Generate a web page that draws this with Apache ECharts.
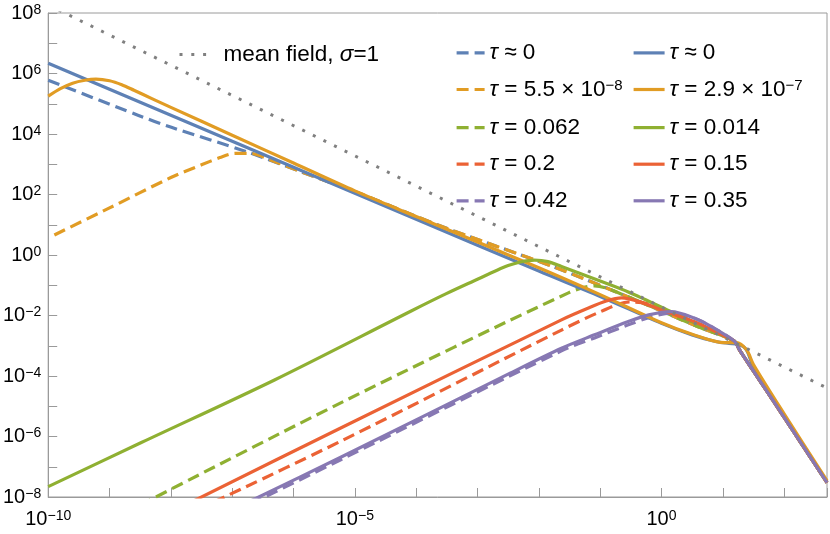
<!DOCTYPE html>
<html><head><meta charset="utf-8">
<script src="https://cdn.jsdelivr.net/npm/echarts@6/dist/echarts.min.js"></script>
<style>html,body{margin:0;padding:0;background:#fff}#c{width:830px;height:534px}</style>
</head><body><div id="c"></div>
<script>
// ---------- data (x, y) ----------
const meanField = [[1e-10,1.86e8],[1e-5,1.9e3],[1,1.9e-2],[31.6,6.3e-4],[500,4.0e-5]];

const blueSolid = [[1e-10,2.19e6],[1e-9,3.0e5],[1e-8,4.17e4],[1e-6,794],[1e-4,15.1],[0.01,0.295],[0.1,0.0427],[1,5.5e-3],[3.16,2.29e-3],[7.94,1.35e-3],[12.6,1.2e-3],[17.8,1.12e-3],[24,7.6e-4],[31.6,2.0e-4],[100,4.7e-6],[500,3.16e-8]];
const orangeSolid = [[1e-10,1.78e5],[1.58e-10,3.16e5],[2.5e-10,4.8e5],[3.98e-10,6.0e5],[6.0e-10,6.5e5],[1e-9,5.75e5],[1.58e-9,4.27e5],[2.5e-9,2.8e5],[5.0e-9,1.45e5],[1e-8,7.6e4],[1e-7,9.1e3],[1e-6,1.1e3],[1e-5,132],[1e-4,18.6],[0.01,0.38],[0.1,0.049],[1,5.75e-3],[3.16,2.4e-3],[10.7,1.26e-3],[16.6,1.26e-3],[24.5,7.2e-4],[31.6,2.4e-4],[100,5.6e-6],[500,3.5e-8]];
const greenSolid = [[1e-10,2.2e-8],[3.3e-9,6.3e-7],[4.9e-7,7.4e-5],[8.3e-5,0.0141],[3.16e-4,0.0537],[1e-3,0.158],[2.0e-3,0.302],[3.16e-3,0.447],[5.0e-3,0.589],[8.5e-3,0.676],[0.0141,0.603],[0.0234,0.417],[0.1,0.138],[0.288,0.060],[1.45,0.0132],[3.98,5.0e-3],[15.5,1.41e-3],[18.7,7.3e-4],[31.6,1.45e-4],[100,4.3e-6],[500,3.0e-8]];
const redSolid = [[2.0e-8,6.3e-9],[6.0e-6,1.95e-6],[0.0234,7.2e-3],[0.063,0.0174],[0.126,0.030],[0.224,0.038],[0.447,0.0282],[1,0.0151],[3.47,6.2e-3],[7.94,2.8e-3],[15.5,1.41e-3],[18.7,7.3e-4],[31.6,1.45e-4],[100,4.3e-6],[500,3.0e-8]];
const purpleSolid = [[1.58e-7,5.9e-9],[6.0e-6,2.1e-7],[3.16e-3,1.15e-4],[0.0234,8.3e-4],[0.081,2.3e-3],[0.288,6.3e-3],[0.617,0.0105],[1.45,0.0135],[3.47,8.1e-3],[6.5,4.3e-3],[15.5,1.41e-3],[18.7,7.3e-4],[31.6,1.45e-4],[100,4.3e-6],[500,3.0e-8]];

const blueDashed = [[1e-10,6.0e5],[2.9e-9,4.2e4],[1.02e-8,1.66e4],[1.82e-7,2.5e3],[1.5e-6,513],[1.15e-5,112],[2.57e-4,8.9],[0.0178,0.40],[0.288,0.041],[1,0.0141],[3.98,4.2e-3],[15.5,1.41e-3],[18.7,7.3e-4],[31.6,1.45e-4],[100,4.3e-6],[500,3.0e-8]];
const orangeDashed = [[1.26e-10,4.6],[1e-9,36],[1e-8,363],[3.16e-8,955],[6.3e-8,1.66e3],[1.12e-7,2.29e3],[2.0e-7,2.29e3],[4.0e-7,1.45e3],[1.5e-6,513],[1.15e-5,112],[2.57e-4,8.9],[0.0178,0.40],[0.288,0.041],[1,0.0141],[3.98,4.2e-3],[15.5,1.41e-3],[18.7,7.3e-4],[31.6,1.45e-4],[100,4.3e-6],[500,3.0e-8]];
const greenDashed = [[3.16e-9,5.4e-9],[6.0e-6,1.32e-5],[0.0304,0.056],[0.081,0.095],[0.288,0.041],[1,0.0141],[3.98,4.2e-3],[15.5,1.41e-3],[18.7,7.3e-4],[31.6,1.45e-4],[100,4.3e-6],[500,3.0e-8]];
const redDashed = [[5.0e-8,6.8e-9],[6.0e-6,7.1e-7],[0.0234,3.3e-3],[0.1,0.0132],[0.302,0.0282],[0.63,0.024],[1.58,0.0112],[3.98,5.2e-3],[15.5,1.41e-3],[18.7,7.3e-4],[31.6,1.45e-4],[100,4.3e-6],[500,3.0e-8]];
const purpleDashed = [[2.0e-7,5.9e-9],[6.0e-6,1.74e-7],[0.0234,6.8e-4],[0.081,1.82e-3],[0.288,4.9e-3],[0.617,8.5e-3],[1.45,0.012],[3.47,8.1e-3],[6.5,4.3e-3],[15.5,1.41e-3],[18.7,7.3e-4],[31.6,1.45e-4],[100,4.3e-6],[500,3.0e-8]];

const dashedLabels = ['{i|τ}{t| ≈ 0}','{i|τ}{t| = 5.5 × 10}{s|−8}','{i|τ}{t| = 0.062}','{i|τ}{t| = 0.2}','{i|τ}{t| = 0.42}'];
const solidLabels  = ['{i|τ}{t| ≈ 0}','{i|τ}{t| = 2.9 × 10}{s|−7}','{i|τ}{t| = 0.014}','{i|τ}{t| = 0.15}','{i|τ}{t| = 0.35}'];
const meanFieldLabel = '{t|mean field, }{i|σ}{t|=1}';

const xMin = 1e-10, xMax = 500, yMin = 1e-8, yMax = 1e8;
const xLabelEvery = 5, yLabelEvery = 2;

// ---------- build ----------
const FONT = 'Liberation Sans, Arial, sans-serif';
const C = {blue:'#5E81B5', orange:'#E19C24', green:'#8FB032', red:'#EB6235', purple:'#8778B3'};
const DASH = [12, 6];
const DOTS = [3, 8.8];
const LW = 3.2;

const dashedDefs = [['bd',blueDashed,C.blue],['od',orangeDashed,C.orange],['gd',greenDashed,C.green],['rd',redDashed,C.red],['pd',purpleDashed,C.purple]];
const solidDefs  = [['bs',blueSolid,C.blue],['os',orangeSolid,C.orange],['gs',greenSolid,C.green],['rs',redSolid,C.red],['ps',purpleSolid,C.purple]];

const labelMap = {mf: meanFieldLabel};
dashedDefs.forEach((d,i)=>labelMap[d[0]] = dashedLabels[i]);
solidDefs.forEach((d,i)=>labelMap[d[0]] = solidLabels[i]);

function mk(name, data, color, type, width, smooth) {
  return {name, type:'line', data, symbol:'none', showSymbol:false, smooth:smooth,
    clip:true, silent:true, animation:false,
    lineStyle:{color, width, type, cap:'butt', join:'round'}, itemStyle:{color}};
}
const series = [];
dashedDefs.forEach(d=>series.push(mk(d[0], d[1], d[2], DASH, LW, 0.3)));
solidDefs.forEach(d=>series.push(mk(d[0], d[1], d[2], 'solid', LW, 0.3)));
series.push(mk('mf', meanField, '#808080', DOTS, 3, false));

function supLabel(value, every) {
  const l = Math.log10(value), e = Math.round(l);
  if (Math.abs(l - e) > 1e-6 || e % every !== 0) return '';
  return '{b|10}{s|' + (e < 0 ? '−' + (-e) : e) + '}';
}
const axisRich = {
  b:{fontSize:20, lineHeight:26, fontFamily:FONT, color:'#000'},
  s:{fontSize:14, lineHeight:14, padding:[0,0,9,0], verticalAlign:'bottom', fontFamily:FONT, color:'#000'}
};
const legendRich = {
  t:{fontSize:22.5, lineHeight:26, fontFamily:FONT, color:'#000'},
  i:{fontSize:22.5, lineHeight:26, fontFamily:FONT, fontStyle:'italic', color:'#000'},
  s:{fontSize:15, lineHeight:15, padding:[0,0,9,0], verticalAlign:'bottom', fontFamily:FONT, color:'#000'}
};
const hideSym = {color:'rgba(0,0,0,0)', borderWidth:0, opacity:0};
const legendCommon = {selectedMode:false, padding:0, itemHeight:26, itemStyle:hideSym,
  formatter: n => labelMap[n], textStyle:{fontFamily:FONT, fontSize:22.5, color:'#000', rich:legendRich}};

const option = {
  animation:false,
  backgroundColor:'#fff',
  grid:{left:47, right:3, top:13, bottom:37, show:true, borderColor:'#9a9a9a', borderWidth:1, containLabel:false},
  xAxis:{type:'log', logBase:10, min:xMin, max:xMax, interval:1, splitNumber:12,
    axisLine:{show:true, lineStyle:{color:'#9a9a9a', width:1}},
    axisTick:{show:true, inside:true, length:9, lineStyle:{color:'#9a9a9a', width:1}},
    splitLine:{show:false}, minorTick:{show:false},
    axisLabel:{interval:0, margin:9, showMinLabel:true, showMaxLabel:true, formatter:v=>supLabel(v, xLabelEvery), rich:axisRich}},
  yAxis:{type:'log', logBase:10, min:yMin, max:yMax, interval:1, splitNumber:16,
    axisLine:{show:true, lineStyle:{color:'#9a9a9a', width:1}},
    axisTick:{show:true, inside:true, length:9, lineStyle:{color:'#9a9a9a', width:1}},
    splitLine:{show:false}, minorTick:{show:false},
    axisLabel:{interval:0, margin:7, showMinLabel:true, showMaxLabel:true, formatter:v=>supLabel(v, yLabelEvery), rich:axisRich}},
  legend:[
    Object.assign({}, legendCommon, {data:['mf'], left:178, top:43, orient:'horizontal', itemWidth:27,
      lineStyle:{width:3, type:DOTS, color:'#808080', cap:'butt'}, textStyle:Object.assign({}, legendCommon.textStyle, {padding:[0,0,0,12]})}),
    Object.assign({}, legendCommon, {data:dashedDefs.map(d=>d[0]), left:455, top:41.4, orient:'vertical', itemWidth:28, itemGap:13.6, lineStyle:{width:LW, type:DASH, cap:'butt'}}),
    Object.assign({}, legendCommon, {data:solidDefs.map(d=>d[0]), left:632, top:41.4, orient:'vertical', itemWidth:31, itemGap:13.6, lineStyle:{width:LW, type:'solid', cap:'butt'}})
  ],
  series
};
const chart = echarts.init(document.getElementById('c'), null, {renderer:'canvas'});
chart.setOption(option);
</script></body></html>
